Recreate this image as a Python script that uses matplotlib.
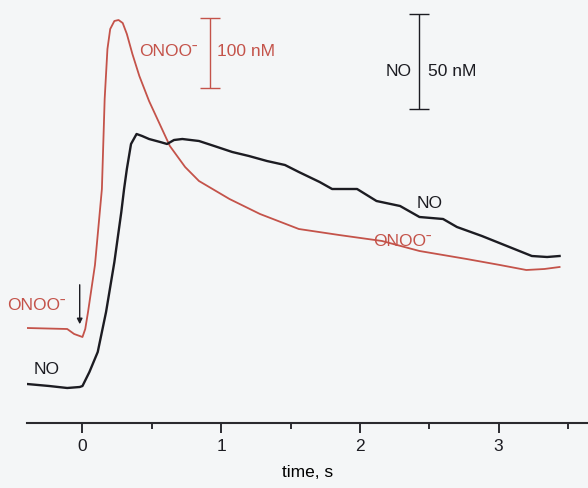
import matplotlib.pyplot as plt

plt.rcParams["font.family"] = ["Liberation Sans", "DejaVu Sans"]

# ONOO- trace (time in s, signal in a.u.)
t_onoo = [-0.40, -0.11, -0.06, 0.00, 0.02, 0.04, 0.09, 0.14, 0.16, 0.18, 0.20, 0.23,
          0.26, 0.29, 0.32, 0.36, 0.41, 0.48, 0.56, 0.63, 0.74, 0.84, 1.06, 1.28,
          1.56, 1.85, 2.16, 2.43, 2.77, 3.01, 3.20, 3.33, 3.44]
y_onoo = [95, 94, 89, 86, 94, 111, 158, 234, 324, 374, 394, 402,
          403, 400, 389, 369, 347, 322, 298, 277, 256, 242, 224, 209,
          194, 188, 182, 172, 164, 158, 153, 154, 156]

# NO trace
t_no = [-0.40, -0.24, -0.11, -0.02, 0.00, 0.05, 0.11, 0.17, 0.23, 0.28, 0.30, 0.32,
        0.35, 0.39, 0.43, 0.48, 0.56, 0.61, 0.66, 0.72, 0.84, 0.95, 1.08, 1.20,
        1.33, 1.46, 1.56, 1.71, 1.80, 1.98, 2.12, 2.29, 2.43, 2.60, 2.70, 2.88,
        3.06, 3.24, 3.35, 3.44]
y_no = [39, 37, 35, 36, 37, 51, 71, 111, 161, 211, 234, 254,
        279, 289, 287, 284, 281, 279, 283, 284, 282, 277, 271, 267,
        262, 258, 251, 241, 234, 234, 222, 217, 206, 204, 196, 187,
        177, 167, 166, 167]

major_ticks = [0, 1, 2, 3]
minor_ticks = [0.5, 1.5, 2.5, 3.5]

RED = "#c4534a"
BLACK = "#1c1c22"
FS = 12.5
ONOO = "ONOO\u02c9"

fig = plt.figure(figsize=(5.88, 4.89), dpi=100, facecolor="#f4f6f7")
ax = fig.add_axes([27 / 588, 65 / 489, 561 / 588, 424 / 489])
ax.set_facecolor("none")

ax.plot(t_onoo, y_onoo, color=RED, lw=1.3, zorder=2)
ax.plot(t_no, y_no, color=BLACK, lw=1.7, zorder=3)

# injection arrow
ax.annotate("", xy=(-0.02, 96), xytext=(-0.02, 141),
            arrowprops=dict(arrowstyle="-|>", color=BLACK, lw=1.0,
                            mutation_scale=8))

# trace labels
ax.text(-0.33, 118, ONOO, color=RED, fontsize=FS, ha="center", va="center")
ax.text(-0.26, 54, "NO", color=BLACK, fontsize=FS, ha="center", va="center")
ax.text(2.50, 221, "NO", color=BLACK, fontsize=FS, ha="center", va="center")
ax.text(2.31, 183, ONOO, color=RED, fontsize=FS, ha="center", va="center")

# scale bars
ax.errorbar([0.92], [370], yerr=[[35], [35]], color=RED, lw=1.0,
            capsize=7, capthick=1.0)
ax.text(0.83, 372, ONOO, color=RED, fontsize=FS, ha="right", va="center")
ax.text(0.97, 372, "100 nM", color=RED, fontsize=FS, ha="left", va="center")

ax.errorbar([2.43], [361.5], yerr=[[47.5], [47.5]], color=BLACK, lw=1.0,
            capsize=7, capthick=1.0)
ax.text(2.37, 353, "NO", color=BLACK, fontsize=FS, ha="right", va="center")
ax.text(2.49, 353, "50 nM", color=BLACK, fontsize=FS, ha="left", va="center")

ax.set_xlim(-0.40, 3.645)
ax.set_ylim(0, 424)
ax.set_xticks(major_ticks)
ax.set_xticks(minor_ticks, minor=True)
ax.tick_params(axis="x", which="major", length=7, width=1.3, colors=BLACK,
               labelsize=FS, pad=4)
ax.tick_params(axis="x", which="minor", length=4, width=1.3, colors=BLACK)
ax.set_yticks([])
for side in ["top", "right", "left"]:
    ax.spines[side].set_visible(False)
ax.spines["bottom"].set_linewidth(1.5)
ax.spines["bottom"].set_color("#2a2a2e")
ax.set_xlabel("time, s", fontsize=FS, labelpad=8)

fig.savefig("out.png", dpi=100, facecolor=fig.get_facecolor())
